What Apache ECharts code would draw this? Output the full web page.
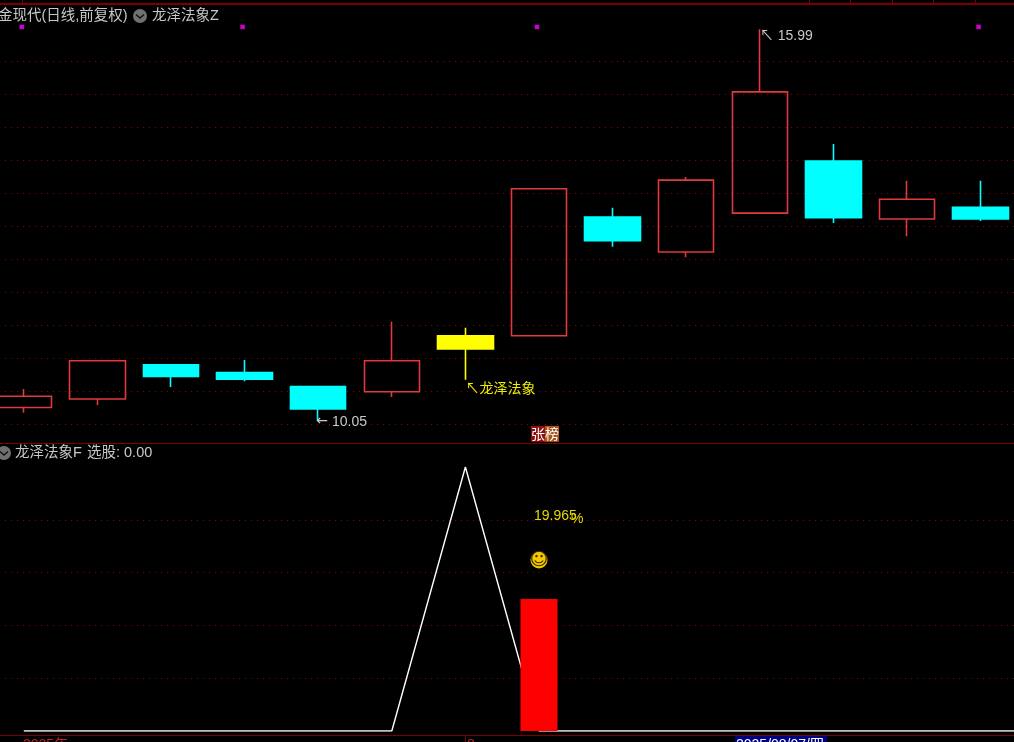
<!DOCTYPE html>
<html><head><meta charset="utf-8">
<style>html,body{margin:0;padding:0;background:#000;overflow:hidden}#c{width:1014px;height:742px}</style>
<script src="https://cdn.jsdelivr.net/npm/echarts@6/dist/echarts.min.js"></script></head>
<body><div id="c"></div>
<script>
const categories=['d01','d02','d03','d04','d05','d06','d07','d08','d09','d10','d11','d12','d13','d14','d15'];
const opens =[10.25,10.38,10.90,10.78,10.57,10.49,11.34,11.34,13.14,12.61,13.20,13.99,13.11,13.29];
const closes=[10.42,10.96,10.72,10.68,10.23,10.96,11.14,13.57,12.78,13.70,15.04,13.13,13.41,13.11];
const lows  =[10.17,10.29,10.56,10.65,10.05,10.41,10.67,11.34,12.69,12.53,13.20,13.05,12.85,13.08];
const highs =[10.53,10.96,10.90,10.97,10.57,11.55,11.46,13.57,13.28,13.75,15.99,14.25,13.69,13.69];
const selectLine=[0,0,0,0,0,0,1,0,0,0,0,0,0,0,0];
const redBar=[null,null,null,null,null,null,null,0.5,null,null,null,null,null,null,null];
const dotIdx=[0,3,7,13];
const dotValue=16.025;
const RED='#e23a3a', CYAN='#00ffff', YEL='#ffff00';

const candleData=opens.map((o,i)=>{
  const v=[o,closes[i],lows[i],highs[i]];
  return i===6?{value:v,itemStyle:{color:YEL,color0:YEL,borderColor:YEL,borderColor0:YEL}}:v;
});
const font='"Noto Sans CJK SC"';
const pt=(i,v,text,color,ox,oy)=>({coord:[i,v],symbol:'circle',symbolSize:1,itemStyle:{color:'transparent'},label:{show:true,formatter:text,color,fontFamily:'"Liberation Sans",'+font,fontSize:14,position:'inside',align:'left',verticalAlign:'middle',offset:[ox,oy],
  rich:{a:{fontFamily:'"DejaVu Sans"',fontSize:14,color,padding:[0,4,0,0]},b:{fontFamily:'"Liberation Sans"',fontSize:14,color}}}});
const gridLine={show:true,showMinLine:false,showMaxLine:false,lineStyle:{color:'#8c0000',type:[1,5],width:1}};
const frame=(x1,y1,x2,y2,w)=>({type:'line',shape:{x1,y1,x2,y2},style:{stroke:'#7a0000',lineWidth:w||1},silent:true});
const txt=(x,y,text,fill,size)=>({type:'text',x,y,style:{text,fill,font:(size||14)+'px "Liberation Sans",'+font,textVerticalAlign:'middle'},silent:true});

const chart=echarts.init(document.getElementById('c'),null,{renderer:'canvas'});
chart.setOption({
  backgroundColor:'#000',animation:false,
  grid:[
    {left:-13,top:28.6,width:1104,height:428.35,outerBoundsMode:'none',containLabel:false},
    {left:-13,top:467,width:1104,height:264,outerBoundsMode:'none',containLabel:false}
  ],
  xAxis:[
    {type:'category',gridIndex:0,data:categories,axisLine:{show:false},axisTick:{show:false},axisLabel:{show:false},splitLine:{show:false}},
    {type:'category',gridIndex:1,data:categories,axisLine:{show:false},axisTick:{show:false},axisLabel:{show:false},splitLine:{show:false}}
  ],
  yAxis:[
    {type:'value',gridIndex:0,min:9.5,max:16,interval:0.5,axisLine:{show:false},axisTick:{show:false},axisLabel:{show:false},splitLine:gridLine},
    {type:'value',gridIndex:1,min:0,max:1,interval:0.2,axisLine:{show:false},axisTick:{show:false},axisLabel:{show:false},splitLine:gridLine}
  ],
  series:[
    {type:'candlestick',xAxisIndex:0,yAxisIndex:0,data:candleData,barWidth:56,clip:false,
     itemStyle:{color:'transparent',borderColor:RED,color0:CYAN,borderColor0:CYAN,borderColorDoji:RED,borderWidth:1.6},
     markPoint:{silent:true,animation:false,data:[
       pt(10,15.93,'↖ 15.99','#c8c8c8',0,3),
       pt(4,10.05,'{a|←}{b|10.05}','#c8c8c8',-2,1),
       pt(6,10.55,'↖龙泽法象','#eeee00',0,1),
       {coord:[7,9.85],symbol:'circle',symbolSize:1,itemStyle:{color:'transparent'},label:{show:true,position:'inside',align:'center',verticalAlign:'middle',offset:[6,0],
         formatter:'{a|张}{b|榜}',rich:{a:{backgroundColor:'#8b1010',color:'#fff',fontFamily:font,fontSize:14,padding:[1,0]},b:{backgroundColor:'#a4561c',color:'#fff',fontFamily:font,fontSize:14,padding:[1,0]}}}}
     ]}},
    {type:'scatter',xAxisIndex:0,yAxisIndex:0,clip:false,symbol:'rect',symbolSize:4.5,symbolOffset:[-2,0],itemStyle:{color:'#ff00ff'},data:dotIdx.map(i=>[i,dotValue])},
    {type:'line',xAxisIndex:1,yAxisIndex:1,data:selectLine,symbol:'none',lineStyle:{color:'#ffffff',width:1.4},z:2},
    {type:'bar',xAxisIndex:1,yAxisIndex:1,data:redBar,barWidth:37,itemStyle:{color:'#ff0000'},z:3,
     markPoint:{silent:true,animation:false,data:[
       pt(7,0.818,'19.965','#e6d800',-5,1),
       pt(7,0.804,'%','#e6d800',32,0),
       {coord:[7,0.648],symbol:'circle',symbolSize:17,itemStyle:{color:'#f5c800'},label:{show:true,position:'inside',formatter:'☺',color:'#3a2c00',fontFamily:'"DejaVu Sans"',fontSize:18}}
     ]}}
  ],
  graphic:[
    frame(0,4,1014,4,2),frame(0,443.5,1014,443.5),frame(0,735.5,1014,735.5),
    frame(22.5,0,22.5,4),frame(809.5,0,809.5,4),frame(850.5,0,850.5,4),frame(892.5,0,892.5,4),frame(933.5,0,933.5,4),frame(975.5,0,975.5,4),
    frame(465.5,735,465.5,742),
    txt(-2,16,'金现代(日线,前复权)','#c8c8c8',14.5),
    {type:'circle',shape:{cx:140,cy:16,r:7},style:{fill:'#707070'},silent:true},
    {type:'polyline',shape:{points:[[136,14.5],[140,18],[144,14.5]]},style:{stroke:'#111',lineWidth:1.4,fill:null},silent:true},
    txt(152,16,'龙泽法象Z','#c8c8c8',14.5),
    {type:'circle',shape:{cx:4,cy:453,r:7},style:{fill:'#707070'},silent:true},
    {type:'polyline',shape:{points:[[0,451.5],[4,455],[8,451.5]]},style:{stroke:'#111',lineWidth:1.4,fill:null},silent:true},
    txt(15,453,'龙泽法象F','#c8c8c8',14.5),
    txt(87,453,'选股: 0.00','#c8c8c8',14.5),
    txt(23,745,'2025年','#c02020'),
    txt(467,745,'8','#c02020'),
    {type:'rect',shape:{x:735,y:736,width:92,height:8},style:{fill:'#000080'},silent:true},
    txt(736,745,'2025/08/07/四','#ffffff')
  ]
});
</script></body></html>
